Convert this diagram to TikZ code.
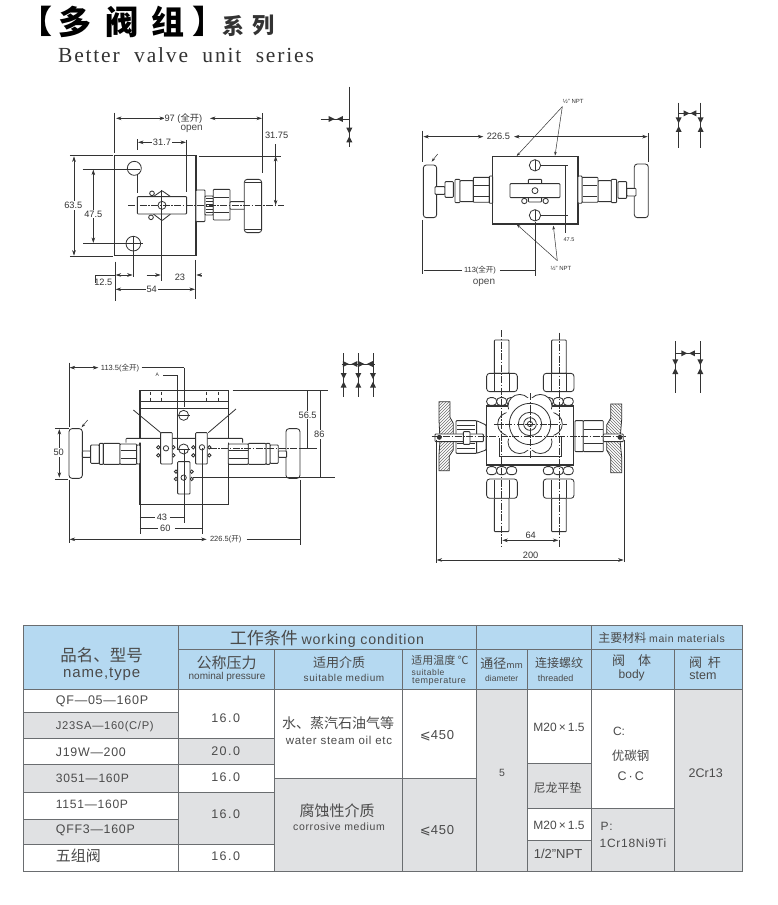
\documentclass[tikz,border=0pt]{standalone}
\usepackage{fontspec}
\setmainfont{Liberation Sans}
\newfontfamily\cjkf{Noto Sans CJK SC}
\newfontfamily\serf[LetterSpace=8.5]{Liberation Serif}
\newfontfamily\latw[LetterSpace=6]{Liberation Sans}
\newfontfamily\djvf{DejaVu Sans}
\usetikzlibrary{arrows.meta,patterns}
\definecolor{hdr}{HTML}{B5D9F1}
\definecolor{gry}{HTML}{E0E1E3}
\definecolor{tline}{HTML}{6A6D70}
\definecolor{ink}{HTML}{333333}
\definecolor{txt}{HTML}{4A4A4A}
\tikzset{
  ln/.style={draw=ink,line width=.8pt},
  thick ln/.style={draw=ink,line width=1.1pt},
  thin ln/.style={draw=ink,line width=.55pt},
  dimn/.style={draw=ink,line width=.6pt,{Stealth[length=5.5pt,width=3.6pt]}-{Stealth[length=5.5pt,width=3.6pt]}},
  ctr/.style={draw=ink,line width=.4pt,dash pattern=on 7pt off 1.5pt on 1.5pt off 1.5pt},
  lab/.style={fill=white,inner sep=1pt,text=ink,font=\fontsize{9.25}{10}\selectfont},
  plain/.style={inner sep=0pt,text=txt},
  part/.style={draw=ink,line width=.85pt,fill=white,rounded corners=.8pt},
  ldr/.style={draw=ink,line width=.5pt,-{Stealth[length=4pt,width=2.6pt]}},
}
% text: x, y, size, content
\newcommand\txtn[4]{\node[plain] at (#1,#2) {\fontsize{#3}{#3}\selectfont #4};}
% filled triangle pointing along an angle
\newcommand\vtri[3]{\fill[ink,shift={(#1,#2)},rotate=#3] (-9,-9)--(-9,9)--(9,0)--cycle;}
\newcommand\valveV[2]{\vtri{#1}{#2}{-90}\vtri{#1}{#2+26}{90}}
\begin{document}
\begin{tikzpicture}[x=1pt,y=-1pt]
\useasboundingbox (0,0) rectangle (778,905);
\fill[white] (0,0) rectangle (778,905);

% ---------- title
\node[inner sep=0,text=black] (tL) at (36,21.7) {\fontsize{32}{32}\selectfont\cjkf\bfseries 【};
\node[inner sep=0,text=black] (t1) at (75,21.7) {\fontsize{33}{33}\selectfont\cjkf\bfseries 多};
\node[inner sep=0,text=black] (t2) at (121.7,21.7) {\fontsize{33}{33}\selectfont\cjkf\bfseries 阀};
\node[inner sep=0,text=black] (t3) at (167.7,21.7) {\fontsize{33}{33}\selectfont\cjkf\bfseries 组};
\node[inner sep=0,text=black] (tR) at (208,21.7) {\fontsize{32}{32}\selectfont\cjkf\bfseries 】};
\node[inner sep=0,text=ink] (t4) at (233,25.7) {\fontsize{22}{22}\selectfont\cjkf\bfseries 系};
\node[inner sep=0,text=ink] (t5) at (263,25.7) {\fontsize{22}{22}\selectfont\cjkf\bfseries 列};
\node[inner sep=0,text=ink] (t6) at (186,55) {\fontsize{21.5}{22}\selectfont\serf Better\ \ valve\ \ unit\ \ series};

% ---------- drawing 1
\begin{scope}[shift={(50,90)},x=.3333pt,y=-.3333pt]
\draw[thick ln] (193,197) rectangle (438,497);
\draw[ln] (253,235) circle (21);
\draw[ln] (250,461) circle (22);
\draw[part] (306,310) circle (7) (303,382) circle (7);
\draw[part] (310,320) -- (336,302) -- (362,320) -- (362,372) -- (336,392) -- (310,372) -- cycle;
\draw[part] (262,320) rectangle (410,372);
\draw[ln] (336,346) circle (12);
% fitting
\draw[part] (438,300) rectangle (465,395);
\draw[part] (465,318) rectangle (490,375);
\foreach \yy in {326,334,342,350,358,366} \draw[thin ln] (467,\yy) -- (488,\yy);
\draw[part] (490,298) rectangle (540,390);
\draw[thin ln] (492,322) -- (538,322) (492,366) -- (538,366);
\draw[part] (540,335) rectangle (585,358);
\draw[part,rounded corners=3pt] (583,268) rectangle (635,428);
\draw[ln] (586,278) -- (632,278) (586,418) -- (632,418);
% extension lines
\draw[thin ln] (194,68) -- (194,190) (638,70) -- (638,250) (262,148) -- (262,180) (262,255) -- (262,310) (410,150) -- (410,305);
\draw[thin ln] (448,198) -- (692,198) (60,197) -- (190,197) (60,499) -- (190,499) (98,237) -- (270,237) (100,461) -- (280,461);
\draw[thin ln] (250,440) -- (250,562) (195,515) -- (195,632) (334,300) -- (334,572) (437,510) -- (437,628);
\draw[ctr] (235,346) -- (702,346);
% dimensions
\draw[dimn] (345,85) -- (198,85); \draw[dimn] (480,85) -- (636,85);
\node[lab] (a97) at (400,85) {97 ({\cjkf 全开})};
\node[inner sep=0,text=txt,font=\fontsize{10}{10}\selectfont] (aop) at (425,116) {open};
\draw[dimn] (264,157) -- (408,157);
\node[lab] (a31) at (336,157) {31.7};
\draw[dimn] (677,198) -- (677,346);
\draw[ln] (677,163) -- (677,198);
\node[lab] (a3175) at (680,135) {31.75};
\draw[dimn] (72,199) -- (72,497);
\node[lab] (a63) at (70,346) {63.5};
\draw[dimn] (130,239) -- (130,459);
\node[lab] (a47) at (130,372) {47.5};
\draw[dimn] (197,555) -- (248,555);
\draw[thin ln] (197,555) -- (137,555) -- (137,578);
\node[lab,fill=none] (a12) at (160,578) {12.5};
\draw[draw=ink,line width=.6pt,-{Stealth[length=5.5pt,width=3.6pt]}] (290,555) -- (332,555);
\draw[draw=ink,line width=.6pt,-{Stealth[length=5.5pt,width=3.6pt]}] (456,555) -- (439,555);
\node[lab] (a23) at (390,562) {23};
\draw[dimn] (197,598) -- (435,598);
\node[lab] (a54) at (305,598) {54};
% symbol
\draw[ln] (898,-10) -- (898,172);
\draw[ln] (812,87) -- (898,87);
\vtri{845}{87}{0}\vtri{870}{87}{180}
\valveV{898}{122}
\end{scope}

% ---------- drawing 2
\begin{scope}[shift={(400,90)},x=.3333pt,y=-.3333pt]
\draw[thick ln] (278,200) rectangle (534,402);
\draw[ln] (405,226) circle (17) (405,376) circle (17);
\draw[thin ln] (405,209) -- (405,243) (405,359) -- (405,393);
\draw[part] (385,268) rectangle (425,336);
\draw[part] (373,333) circle (8) (437,333) circle (8);
\draw[part] (330,281) rectangle (480,323);
\draw[ln] (405,302) circle (9);
% left fitting
\draw[part,rounded corners=3pt] (70,225) rectangle (110,383);
\draw[part] (105,290) rectangle (135,313);
\draw[part] (135,275) rectangle (160,322);
\draw[part] (165,268) rectangle (180,338);
\draw[part] (180,272) rectangle (220,335);
\draw[part] (220,262) rectangle (268,337);
\draw[thin ln] (222,285) -- (266,285) (222,318) -- (266,318);
\draw[part] (268,258) rectangle (278,340);
% right fitting
\draw[part,rounded corners=3pt] (703,222) rectangle (745,383);
\draw[part] (680,295) rectangle (708,318);
\draw[part] (654,275) rectangle (680,325);
\draw[part] (634,268) rectangle (650,338);
\draw[part] (594,272) rectangle (634,335);
\draw[part] (546,262) rectangle (594,337);
\draw[thin ln] (548,285) -- (592,285) (548,318) -- (592,318);
\draw[part] (534,258) rectangle (546,340);
% dims
\draw[thin ln] (68,122) -- (68,215) (745,130) -- (745,215) (68,390) -- (68,552) (405,395) -- (405,558);
\draw[dimn] (250,140) -- (70,140); \draw[dimn] (342,140) -- (743,140);
\node[lab,fill=none] (b226) at (295,140) {226.5};
\draw[thin ln] (72,540) -- (185,540) (300,540) -- (405,540);
\node[lab,fill=none,font=\fontsize{7.5}{8}\selectfont] (b113) at (240,540) {113({\cjkf 全开})};
\node[inner sep=0,text=txt,font=\fontsize{10}{10}\selectfont] (bop) at (252,578) {open};
\draw[thin ln] (420,226) -- (505,226) (420,376) -- (505,376) (497,226) -- (497,430);
\node[lab,fill=none,font=\fontsize{5.5}{6}\selectfont] (b47) at (507,450) {47.5};
\node[lab,fill=none,font=\fontsize{6}{6}\selectfont] (bn1) at (520,33) {½" NPT};
\node[lab,fill=none,font=\fontsize{6}{6}\selectfont] (bn2) at (483,535) {½" NPT};
\coordinate (bc1) at (487,50);
\coordinate (bc2) at (472,512);
\draw[ldr] (bc1) -- (350,198); \draw[ldr] (bc1) -- (465,197);
\draw[ldr] (bc2) -- (350,403); \draw[ldr] (bc2) -- (460,407);
\draw[ldr] (113,192) -- (95,215);
% symbol
\draw[ln] (836,38) -- (836,175) (902,38) -- (902,175) (836,70) -- (902,70);
\vtri{860}{70}{0}\vtri{880}{70}{180}
\valveV{836}{91}\valveV{902}{91}
\end{scope}

% ---------- drawing 3
\begin{scope}[shift={(40,340)},x=.3333pt,y=-.3333pt]
\draw[thick ln] (300,152) rectangle (565,493);
\draw[ln] (300,185) -- (565,185);
\draw[thick ln] (300,205) -- (565,205);
\foreach \xx in {330,365,500,535} \draw[thin ln,dashed] (\xx,155) -- (\xx,185);
\draw[ln] (431,226) circle (15) (431,327) circle (15);
\draw[thin ln] (411,226) -- (451,226) (411,327) -- (451,327);
\draw[part] (258,308) -- (258,295) -- (608,295) -- (608,308);
\draw[ln] (280,210) -- (362,278) (588,207) -- (505,278);
\foreach \xx in {355,400,460,508} {\draw[part] (\xx,322) circle (5) (\xx,346) circle (5);}
\draw[part] (362,278) rectangle (397,372);
\draw[part] (467,278) rectangle (502,372);
\draw[ln] (378,325) circle (8) (486,322) circle (8);
\foreach \xx in {408,455} {\draw[part] (\xx,395) circle (5) (\xx,417) circle (5);}
\draw[part] (413,365) rectangle (450,462);
\draw[ln] (431,413) circle (8);
% left fitting
\draw[part,rounded corners=3pt] (87,266) rectangle (127,415);
\draw[part] (127,333) rectangle (152,352);
\draw[part] (152,315) rectangle (178,370);
\draw[part] (178,310) rectangle (190,373);
\draw[part] (190,310) rectangle (240,373);
\draw[part] (240,312) rectangle (290,373);
\draw[thin ln] (242,332) -- (288,332) (242,356) -- (288,356);
\draw[part] (290,315) rectangle (300,372);
% right fitting
\draw[part,rounded corners=3pt] (738,266) rectangle (780,415);
\draw[part] (715,333) rectangle (740,352);
\draw[part] (690,315) rectangle (715,370);
\draw[part] (678,310) rectangle (690,373);
\draw[part] (625,310) rectangle (678,373);
\draw[part] (565,312) rectangle (625,373);
\draw[thin ln] (567,332) -- (623,332) (567,356) -- (623,356);
% dims
\draw[thin ln] (87,68) -- (87,260) (432,83) -- (432,200) (413,105) -- (413,330) (370,105) -- (413,105);
\draw[dimn] (175,83) -- (89,83);
\draw[thin ln] (305,83) -- (432,83);
\node[lab,fill=none,font=\fontsize{7.5}{8}\selectfont] (c113) at (240,83) {113.5({\cjkf 全开})};
\node[lab,fill=none,font=\fontsize{5}{5}\selectfont] (cA) at (352,105) {A};
\draw[dimn] (58,267) -- (58,413);
\node[lab] (c50) at (56,338) {50};
\draw[thin ln] (45,265) -- (87,265) (45,417) -- (85,417);
\draw[thin ln] (578,152) -- (865,152) (780,325) -- (830,325) (460,412) -- (885,412);
\draw[ctr] (510,325) -- (780,325);
\draw[thin ln] (803,152) -- (803,325) (840,152) -- (840,412);
\node[lab] (c56) at (803,225) {56.5};
\node[lab] (c86) at (838,283) {86};
\draw[thin ln] (300,493) -- (300,582) (432,327) -- (432,548) (486,325) -- (486,582);
\draw[thin ln] (300,533) -- (345,533) (390,533) -- (432,533) (300,566) -- (355,566) (405,566) -- (486,566);
\node[lab,fill=none] (c43) at (366,533) {43};
\node[lab,fill=none] (c60) at (376,566) {60};
\draw[thin ln] (87,420) -- (87,608) (780,420) -- (780,615);
\draw[dimn] (500,598) -- (89,598); \draw[thin ln] (620,598) -- (780,598);
\node[lab,fill=none,font=\fontsize{7.5}{8}\selectfont] (c226) at (557,598) {226.5({\cjkf 开})};
\draw[ldr] (143,240) -- (125,262);
% symbol
\draw[ln] (911,40) -- (911,170) (955,40) -- (955,170) (999,40) -- (999,170) (905,72) -- (1005,72);
\vtri{918}{72}{0}\vtri{943}{72}{180}\vtri{964}{72}{0}\vtri{990}{72}{180}
\valveV{911}{108}\valveV{955}{108}\valveV{999}{108}
\end{scope}

% ---------- drawing 4
\begin{scope}[shift={(420,330)},x=.3333pt,y=-.3333pt]
% tubes
\foreach \xx in {223,395} {\draw[part] (\xx,30) rectangle (\xx+44,130); \draw[part] (\xx,505) rectangle (\xx+44,605);}
% nuts and washers
\foreach \xx in {200,370} {
  \draw[part,rounded corners=3pt] (\xx,130) rectangle (\xx+92,185);
  \draw[thin ln] (\xx+23,132) -- (\xx+23,183) (\xx+68,132) -- (\xx+68,183);
  \draw[part,rounded corners=3pt] (\xx,447) rectangle (\xx+92,505);
  \draw[thin ln] (\xx+23,449) -- (\xx+23,503) (\xx+68,449) -- (\xx+68,503);
  \foreach \kk in {0,30,60} {
    \draw[part,rounded corners=3.5pt] (\xx+\kk,203) rectangle (\xx+\kk+30,226);
    \draw[part,rounded corners=3.5pt] (\xx+\kk,410) rectangle (\xx+\kk+30,434);
  }
}
\draw[thick ln,fill=white] (200,228) rectangle (460,405);
\draw[ln] (237,325) -- (237,378) -- (425,378) -- (425,322);
% lobes
\foreach \aa in {0,60,...,300} \draw[ln,fill=white] (330,282)+(\aa:62) circle (35);
\fill[white] (330,282) circle (78);
\draw[ln] (330,282) circle (62) (330,282) circle (35) (330,282) circle (19) (330,282) circle (8);
% handles
\draw[ln,pattern=north east lines,pattern color=ink!70] (57,215) -- (90,215) -- (90,262) -- (100,280) -- (100,360) -- (88,378) -- (88,422) -- (57,422) -- (57,375) -- (60,330) -- (57,270) -- cycle;
\draw[ln,pattern=north west lines,pattern color=ink!70] (572,222) -- (605,222) -- (605,270) -- (600,330) -- (605,380) -- (605,428) -- (572,428) -- (572,380) -- (560,360) -- (560,285) -- (572,265) -- cycle;
% fittings
\draw[part] (108,272) rectangle (170,370);
\foreach \yy in {285,298,340,355} \draw[thin ln] (112,\yy) -- (165,\yy);
\draw[part] (170,272) -- (198,285) -- (198,360) -- (170,370) -- cycle;
\draw[part] (45,312) rectangle (190,335);
\draw[part] (130,305) rectangle (150,343);
\draw[part] (465,272) rectangle (490,365);
\draw[part] (490,272) rectangle (550,365);
\draw[thin ln] (492,297) -- (548,297) (492,340) -- (548,340);
\draw[part] (550,312) rectangle (610,335);
\draw[ln,fill=ink] (58,322) circle (6) (600,322) circle (6);
% centre lines
\draw[ctr] (245,0) -- (245,648) (417,8) -- (417,650);
\draw[ctr] (222,282) -- (440,282) (35,320) -- (620,320);
\draw[ctr] (330,190) -- (330,385);
% dims
\draw[dimn] (247,631) -- (415,631);
\node[lab,fill=none] (d64) at (332,617) {64};
\draw[thin ln] (48,330) -- (48,700) (613,330) -- (613,695);
\draw[dimn] (50,690) -- (611,690);
\node[lab,fill=none] (d200) at (332,675) {200};
% symbol
\draw[ln] (766,33) -- (766,190) (841,33) -- (841,190) (766,70) -- (841,70);
\vtri{793}{70}{0}\vtri{816}{70}{180}
\valveV{766}{97}\valveV{841}{97}
\end{scope}

% ---------- table: cell backgrounds
\fill[hdr] (23,625) rectangle (742,689);
\foreach \a/\b/\c/\d in {
 23/178/712/738, 23/178/764/792, 23/178/819/844,
 178/274/738/764, 178/274/792/844,
 274/402/778/871, 402/476/778/871,
 476/527/689/871, 527/591/763/808, 527/591/840/871,
 591/674/808/871, 674/742/689/871}
 \fill[gry] (\a,\c) rectangle (\b,\d);
% table rules
\tikzset{trule/.style={draw=tline,line width=.9pt}}
\draw[trule] (23,625) rectangle (742,871);
\draw[trule] (23,689) -- (742,689);
\draw[trule] (178,625) -- (178,871) (274,649) -- (274,871) (402,649) -- (402,871) (476,625) -- (476,871) (527,649) -- (527,871) (591,625) -- (591,871) (674,649) -- (674,871);
\draw[trule] (178,649) -- (742,649);
\draw[trule] (23,712) -- (178,712) (23,738) -- (274,738) (23,764) -- (274,764) (23,792) -- (274,792) (23,819) -- (178,819) (23,844) -- (274,844);
\draw[trule] (274,778) -- (476,778) (527,763) -- (591,763) (527,808) -- (674,808) (527,840) -- (591,840);

% ---------- table: text
\newcommand\cj{\cjkf}
\txtn{101.7}{655}{16.5}{\cj 品名、型号}
\txtn{101.7}{674}{15}{\latw name,type}
\txtn{327}{639}{17}{\cj 工作条件 \fontsize{14.2}{14}\selectfont\latw working condition}
\txtn{226.7}{663}{15}{\cj 公称压力}
\txtn{227}{677}{10}{nominal pressure}
\txtn{339}{663}{13}{\cj 适用介质}
\txtn{344}{677.5}{10}{\latw suitable medium}
\txtn{440}{660.7}{11}{\cj 适用温度 \fontsize{11}{11}\selectfont ℃}
\txtn{428}{672.7}{8.5}{\latw suitable}
\txtn{439}{681.7}{9}{\latw temperature}
\txtn{501.7}{664}{13}{\cj 通径\fontsize{9}{9}\selectfont mm}
\txtn{501.7}{678}{8.5}{diameter}
\txtn{559}{663}{12}{\cj 连接螺纹}
\txtn{555.7}{678}{9}{threaded}
\txtn{661.7}{638.3}{12}{\cj 主要材料 \fontsize{10.5}{11}\selectfont\latw main materials}
\txtn{631.7}{661}{13}{\cj 阀\quad 体}
\txtn{631.7}{675}{12}{body}
\txtn{705}{663}{13}{\cj 阀\ \ 杆}
\txtn{703}{675.7}{12.5}{stem}
% names
\foreach \yy/\ss/\nm in {701.7/12.5/{QF—05—160P}, 726.7/11.2/{J23SA—160(C/P)}, 752.7/12.4/{J19W—200}, 778/12.1/{3051—160P}, 804/12.1/{1151—160P}, 830/12.4/{QFF3—160P}}
  \node[plain,anchor=west] at (55.7,\yy) {\fontsize{\ss}{\ss}\selectfont\latw \nm};
\node[plain,anchor=west] (n7) at (55.7,856) {\fontsize{15}{15}\selectfont\cj 五组阀};
% pressure
\foreach \yy/\vv in {717.7/16.0, 750.7/20.0, 776.7/16.0, 814/16.0, 856/16.0}
  \node[plain] at (225.7,\yy) {\fontsize{12.5}{12.5}\selectfont\addfontfeatures{LetterSpace=12}\vv};
\txtn{338}{722.7}{14}{\cj 水、蒸汽石油气等}
\txtn{339}{740.7}{11.5}{\latw water steam oil etc}
\txtn{337}{810.7}{15}{\cj 腐蚀性介质}
\txtn{339}{826.7}{10.5}{\latw corrosive medium}
\txtn{437}{736}{13}{{\djvf ⩽}\latw 450}
\txtn{437}{830.7}{13}{{\djvf ⩽}\latw 450}
\txtn{502}{773}{10.5}{5}
\txtn{559}{727.7}{12}{M20\,×\,1.5}
\txtn{557.7}{787.7}{12}{\cj 尼龙平垫}
\txtn{559}{825}{12}{M20\,×\,1.5}
\txtn{558}{854}{13}{1/2"NPT}
\txtn{619}{731}{12}{C:}
\txtn{630.7}{756}{12.5}{\cj 优碳钢}
\txtn{630.7}{776}{12.5}{C\,·\,C}
\txtn{606.7}{826.7}{12}{\latw P:}
\txtn{633}{842.7}{12}{\latw 1Cr18Ni9Ti}
\txtn{705.7}{773}{12.5}{2Cr13}
\end{tikzpicture}
\end{document}
